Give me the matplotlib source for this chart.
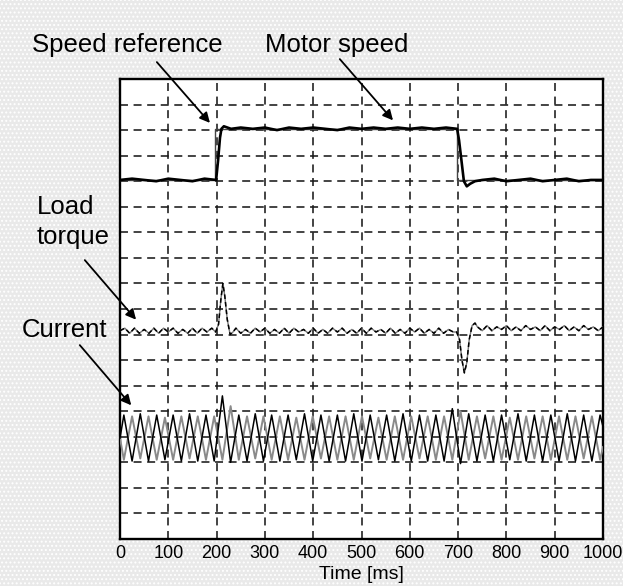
import matplotlib
matplotlib.use("Agg")
import matplotlib.pyplot as plt

plt.rcParams['font.family'] = ['Liberation Sans', 'DejaVu Sans']
plt.rcParams['hatch.color'] = '#909090'
plt.rcParams['hatch.linewidth'] = 0.9

###
# Data (y in grid divisions 0..18)
###

# speed reference step
ref_t = [0, 197, 197, 698, 698, 1000]
ref_v = [14.05, 14.05, 16.05, 16.05, 14.05, 14.05]

# motor speed
speed_t = [0, 25, 50, 75, 100, 125, 150, 175, 199, 203,
           207, 210, 215, 230, 250, 275, 300, 325, 350, 375,
           400, 425, 450, 475, 500, 525, 550, 575, 600, 625,
           650, 675, 698, 702, 707, 712, 718, 725, 735, 750,
           775, 800, 825, 850, 875, 900, 925, 950, 975, 1000]
speed_v = [14.05, 14.1, 14.05, 14.0, 14.1, 14.05, 14.0, 14.1, 14.05, 14.8,
           15.7, 16.05, 16.15, 16.05, 16.1, 16.05, 16.1, 16.0, 16.1, 16.05,
           16.1, 16.05, 16.0, 16.1, 16.05, 16.1, 16.05, 16.1, 16.05, 16.1,
           16.05, 16.1, 16.05, 15.6, 14.8, 14.0, 13.8, 13.9, 14.0, 14.05,
           14.1, 14.0, 14.05, 14.1, 14.0, 14.05, 14.1, 14.0, 14.05, 14.05]

# load torque
torque_t = [0, 10, 20, 30, 40, 50, 60, 70, 80, 90,
            100, 110, 120, 130, 140, 150, 160, 170, 180, 190,
            198, 204, 209, 213, 217, 222, 228, 234,
            240, 250, 260, 270, 280, 290, 300, 310, 320, 330,
            340, 350, 360, 370, 380, 390, 400, 410, 420, 430,
            440, 450, 460, 470, 480, 490, 500, 510, 520, 530,
            540, 550, 560, 570, 580, 590, 600, 610, 620, 630,
            640, 650, 660, 670, 680, 690,
            697, 703, 708, 713, 718, 723, 729, 735,
            740, 750, 760, 770, 780, 790, 800, 810, 820, 830,
            840, 850, 860, 870, 880, 890, 900, 910, 920, 930,
            940, 950, 960, 970, 980, 990, 1000]
torque_v = [8.15, 8.25, 8.05, 8.25, 8.05, 8.2, 8.05, 8.25, 8.05, 8.25,
            8.1, 8.25, 8.05, 8.2, 8.05, 8.25, 8.05, 8.25, 8.1, 8.25,
            8.1, 8.4, 9.4, 10.0, 9.5, 8.6, 8.0, 8.1,
            8.25, 8.05, 8.2, 8.05, 8.25, 8.1, 8.25, 8.05, 8.2, 8.05,
            8.25, 8.05, 8.25, 8.1, 8.2, 8.05, 8.25, 8.05, 8.2, 8.05,
            8.25, 8.1, 8.25, 8.05, 8.2, 8.05, 8.25, 8.05, 8.25, 8.1,
            8.2, 8.05, 8.25, 8.05, 8.2, 8.05, 8.25, 8.1, 8.25, 8.05,
            8.2, 8.05, 8.25, 8.05, 8.2, 8.1,
            8.1, 7.8, 7.0, 6.5, 6.9, 7.8, 8.35, 8.45,
            8.3, 8.15, 8.35, 8.15, 8.3, 8.2, 8.35, 8.15, 8.3, 8.15,
            8.35, 8.2, 8.3, 8.15, 8.35, 8.15, 8.3, 8.2, 8.35, 8.15,
            8.3, 8.15, 8.35, 8.2, 8.3, 8.15, 8.3]

# phase currents (vertex times shared by both traces)
cur_t = [0, 8, 25, 42, 59, 76, 93, 110, 127, 144,
         161, 178, 195, 212, 229, 246, 263, 280, 297, 314,
         331, 348, 365, 382, 399, 416, 433, 450, 467, 484,
         501, 518, 535, 552, 569, 586, 603, 620, 637, 654,
         671, 688, 705, 722, 739, 756, 773, 790, 807, 824,
         841, 858, 875, 892, 909, 926, 943, 960, 977, 994, 1000]
cur_a = [3.95, 4.85, 3.05, 4.9, 3.05, 4.85, 3.1, 4.85, 3.05, 4.9,
         3.05, 4.85, 3.05, 5.6, 3.0, 4.85, 3.05, 4.9, 3.05, 4.85,
         3.05, 4.85, 3.1, 4.9, 3.05, 4.85, 3.05, 4.85, 3.05, 4.9,
         3.05, 4.85, 3.1, 4.85, 3.05, 4.9, 3.05, 4.85, 3.05, 4.85,
         3.05, 5.1, 2.95, 4.9, 3.05, 4.85, 3.05, 4.85, 3.1, 4.9,
         3.05, 4.85, 3.05, 4.85, 3.05, 4.9, 3.05, 4.85, 3.05, 4.85, 4.4]
cur_b = [3.95, 3.1, 4.8, 3.15, 4.8, 3.1, 4.75, 3.1, 4.8, 3.15,
         4.8, 3.1, 4.8, 3.1, 5.2, 3.1, 4.8, 3.15, 4.8, 3.1,
         4.8, 3.1, 4.75, 3.1, 4.8, 3.15, 4.8, 3.1, 4.8, 3.1,
         4.8, 3.15, 4.75, 3.1, 4.8, 3.1, 4.8, 3.15, 4.8, 3.1,
         4.8, 3.1, 5.0, 3.1, 4.8, 3.15, 4.8, 3.1, 4.75, 3.1,
         4.8, 3.15, 4.8, 3.1, 4.8, 3.1, 4.8, 3.15, 4.8, 3.1, 3.6]

x_ticks = [0, 100, 200, 300, 400, 500, 600, 700, 800, 900, 1000]

###
# Plot
###

fig = plt.figure(figsize=(6.23, 5.86), dpi=100)
fig.patch.set_facecolor('#e9e9e9')
fig.patch.set_hatch('....')

ax = fig.add_axes([120 / 623, 1 - 539 / 586, 483 / 623, 460 / 586])
ax.set_facecolor('white')

ax.plot(cur_t, cur_b, color='#8a8a8a', lw=1.4, zorder=3)
ax.plot(cur_t, cur_a, color='black', lw=1.1, zorder=4)

ax.plot(torque_t, torque_v, color='#777777', lw=1.0, zorder=3)
ax.plot(torque_t, torque_v, color='black', lw=1.1, ls=(0, (3, 2)), zorder=4)

ax.plot(ref_t, ref_v, color='#444444', lw=1.0, zorder=4)
ax.plot(speed_t, speed_v, color='black', lw=1.9, zorder=5)

ax.set_xlim(0, 1000)
ax.set_ylim(0, 18)
ax.set_xticks(x_ticks)
ax.set_yticks(range(0, 19))
ax.set_yticklabels([])
ax.tick_params(length=0, labelsize=13, pad=4)
ax.grid(True, color='#1a1a1a', lw=1.15, ls=(0, (5, 3.5)), zorder=1)
for s in ax.spines.values():
    s.set_linewidth(1.7)
ax.set_xlabel('Time [ms]', fontsize=14, labelpad=3)

# annotations with arrows
arrow = dict(arrowstyle='-|>', color='black', lw=1.3, mutation_scale=15)
ax.annotate('', xy=(190, 16.2), xytext=(155 / 623, 1 - 60 / 586),
            textcoords='figure fraction', arrowprops=arrow)
ax.annotate('', xy=(569, 16.3), xytext=(338 / 623, 1 - 57 / 586),
            textcoords='figure fraction', arrowprops=arrow)
ax.annotate('', xy=(37, 8.5), xytext=(83 / 623, 1 - 258 / 586),
            textcoords='figure fraction', arrowprops=arrow)
ax.annotate('', xy=(27, 5.15), xytext=(78 / 623, 1 - 343 / 586),
            textcoords='figure fraction', arrowprops=arrow)

fig.text(32 / 623, 1 - 45 / 586, 'Speed reference', fontsize=18.5,
         ha='left', va='center')
fig.text(265 / 623, 1 - 45 / 586, 'Motor speed', fontsize=18.5,
         ha='left', va='center')
fig.text(37 / 623, 1 - 222 / 586, 'Load\ntorque', fontsize=18.5,
         ha='left', va='center', linespacing=1.3)
fig.text(22 / 623, 1 - 330 / 586, 'Current', fontsize=18.5,
         ha='left', va='center')

plt.savefig('out.png', dpi=100, facecolor=fig.get_facecolor())
